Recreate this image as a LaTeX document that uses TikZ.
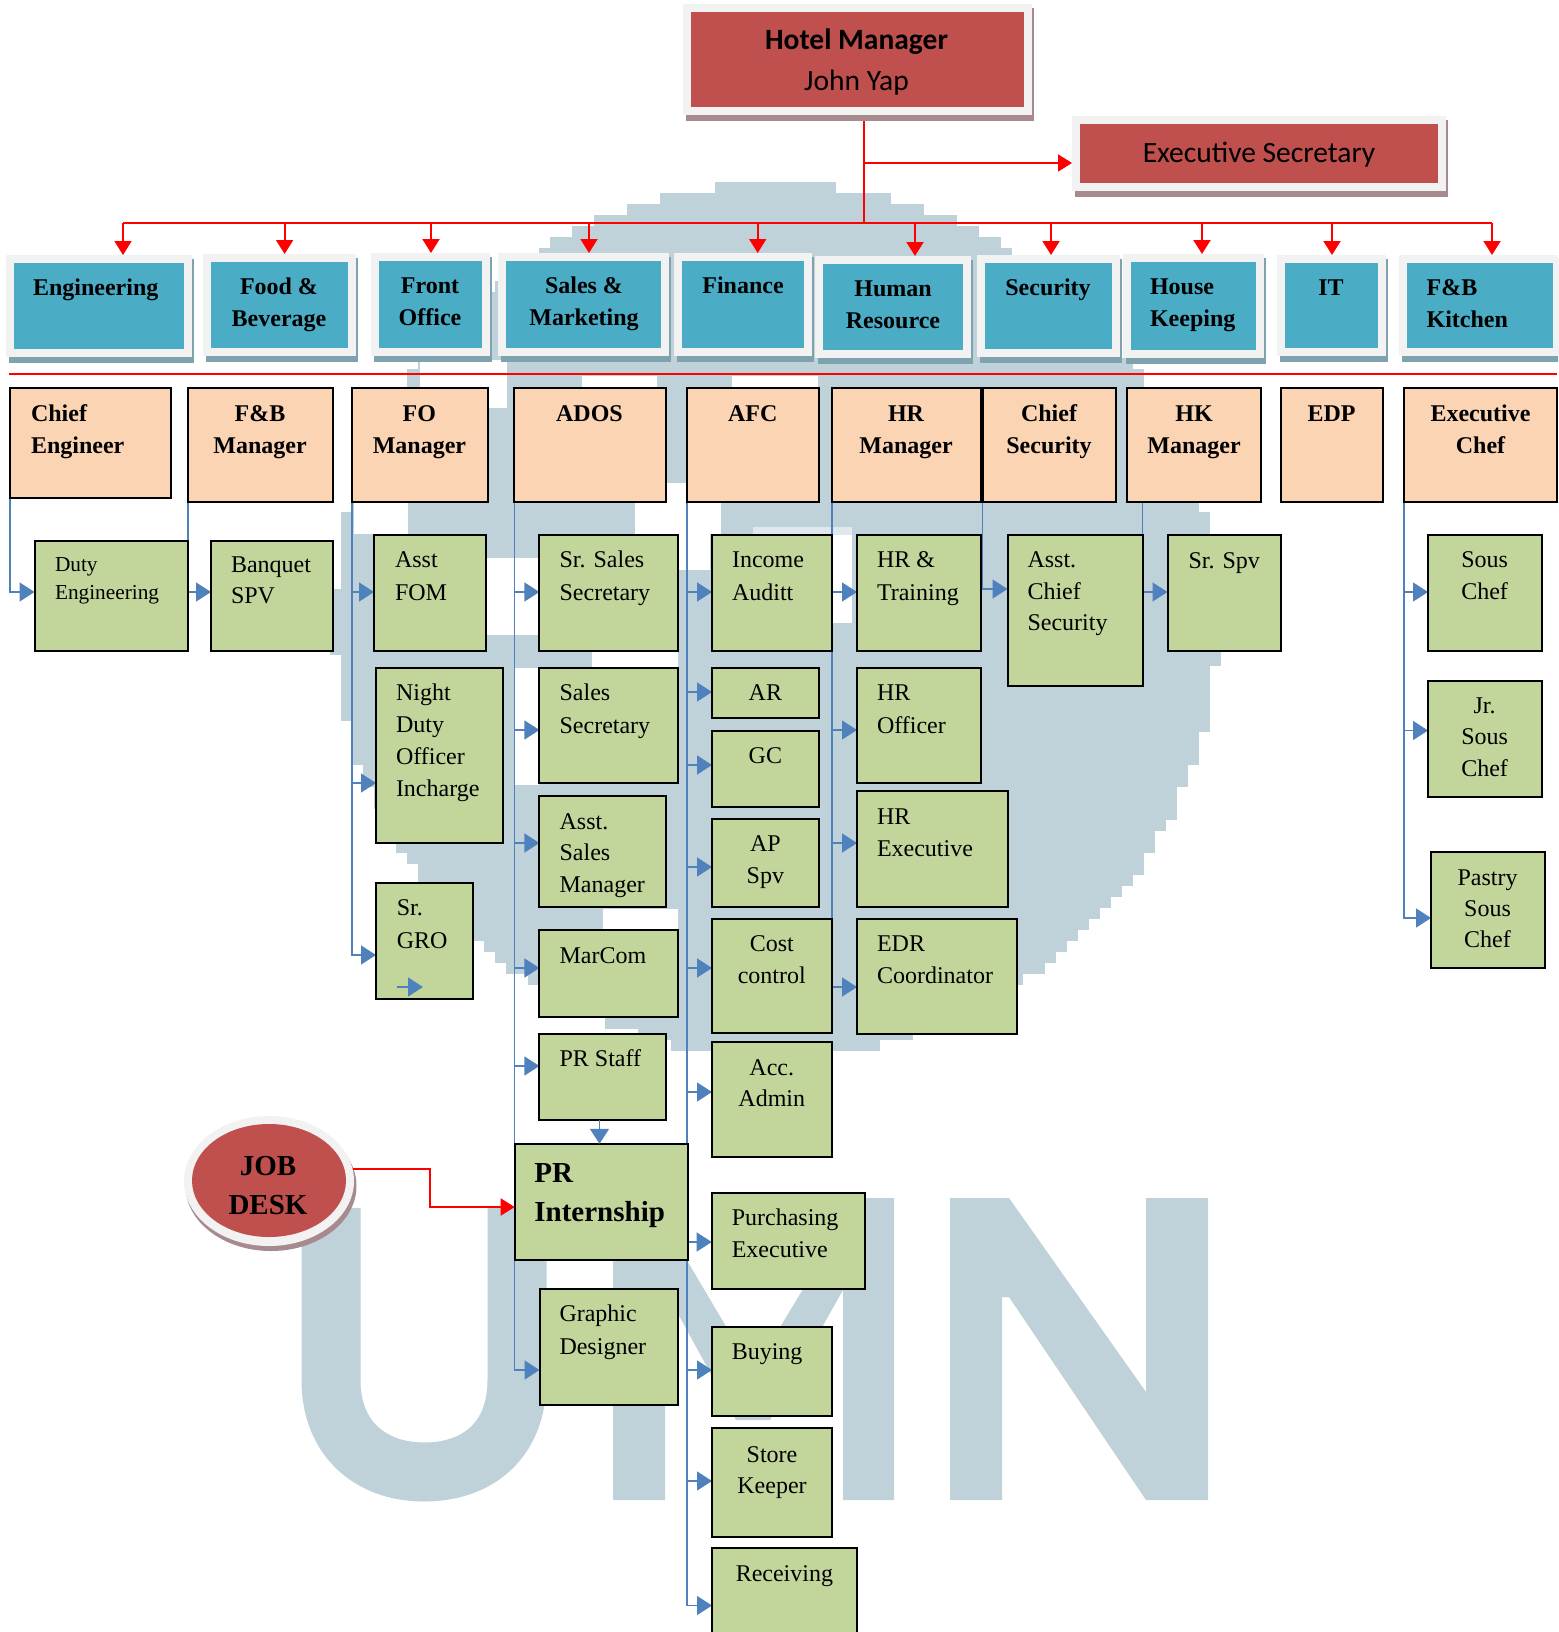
\documentclass[tikz,border=0pt]{standalone}
\usepackage{fontspec}
\setmainfont{Liberation Serif}
\newfontfamily\calib{Carlito}
\usetikzlibrary{arrows.meta,shapes.geometric}
\pgfdeclarelayer{wmlayer}
\pgfdeclarelayer{connlayer}
\pgfsetlayers{wmlayer,connlayer,main}
\definecolor{redbox}{HTML}{C0504D}
\definecolor{tealbox}{HTML}{4BACC6}
\definecolor{peachbox}{HTML}{FBD4B4}
\definecolor{greenbox}{HTML}{C2D69B}
\definecolor{blueline}{HTML}{4F81BD}
\definecolor{framec}{HTML}{F2F2F2}
\definecolor{wmc}{HTML}{BFD1D9}
\definecolor{shadowr}{HTML}{A68A8E}
\definecolor{shadowt}{HTML}{7FA3AE}
\tikzset{
  rectbase/.style={rectangle,inner sep=0pt,outer sep=0pt},
  framebox/.style={rectbase,fill=framec},
  redfill/.style={rectbase,fill=redbox},
  tealfill/.style={rectbase,fill=tealbox},
  peach/.style={rectbase,fill=peachbox,draw=black,line width=2pt},
  green/.style={rectbase,fill=greenbox,draw=black,line width=2pt},
  redconn/.style={draw=red,line width=1.9pt},
  redarrow/.style={redconn,-{Triangle[length=14pt,width=17pt]}},
  blueconn/.style={draw=blueline,line width=1.5pt,-{Triangle[length=15pt,width=19pt]}},
  tn/.style={inner sep=0pt,outer sep=0pt,yshift=30pt,text=black},
  gl/.style={tn,anchor=north west,align=left,font=\fontsize{24}{33}\selectfont},
  gc/.style={tn,anchor=north,align=center,font=\fontsize{24}{32}\selectfont},
  bl/.style={tn,anchor=north west,align=left,font=\fontsize{24}{32}\bfseries\selectfont},
  bc/.style={tn,anchor=north,align=center,font=\fontsize{24}{32}\bfseries\selectfont},
}
\newcommand\mybox[6]{\pgfmathsetmacro\bw{(#5)-(#3)}\pgfmathsetmacro\bh{(#6)-(#4)}%
  \node[#1,anchor=north west,minimum width=\bw pt,minimum height=\bh pt] (#2) at (#3,#4) {};}
\newcommand\mydept[7]{% name x1 y1 x2 y2 fill shadow
  \fill[#7] (#2-5,#3-4) rectangle (#4+10,#5+14);
  \mybox{framebox}{#1F}{#2-8}{#3-8}{#4+8}{#5+8}
  \mybox{#6}{#1}{#2}{#3}{#4}{#5}}
\newcommand\mylab[5]{\node[#1] (#2) at (#3,#4) {\rule{0pt}{30pt}#5};}
\newcommand\cn[3]{\draw[blueconn] (#1.south west) |- (#2.west |- 0,#3);}
\newcommand\rdrop[2]{\draw[redarrow] (#1,0 |- bus) -- (#1,0 |- #2F.north);}
\begin{document}
\begin{tikzpicture}[x=1pt,y=-1pt]
\useasboundingbox (0,0) rectangle (1558,1632);
\clip (0,0) rectangle (1558,1632);

% ---- pale logo behind the chart
\begin{pgfonlayer}{wmlayer}
  \foreach \i in {0,...,79}{
    \pgfmathsetmacro\yy{182+11*\i}
    \pgfmathsetmacro\yd{(\yy+5.5-620)/437}
    \pgfmathsetmacro\dx{442*sqrt(1-\yd*\yd)}
    \pgfmathsetmacro\xa{round((776-\dx)/11)*11}
    \pgfmathsetmacro\xb{round((776+\dx)/11)*11}
    \fill[wmc] (\xa,\yy) rectangle (\xb,\yy+11.3);
  }
  \fill[white] (420,360) rectangle (507,408);
  \fill[white] (582,376) rectangle (657,388);
  \fill[white] (732,376) rectangle (818,388);
  \fill[white] (666,483) rectangle (686,503);
  \fill[white] (354,503) rectangle (408,534);
  \fill[white] (635,503) rectangle (721,534);
  \fill[white] (678,534) rectangle (710,570);
  \fill[white!50!wmc] (753,527) rectangle (852,535);
  \fill[white] (832,535) rectangle (852,623);
  \fill[white] (486,558) rectangle (539,635);
  \fill[white] (592,652) rectangle (678,667);
  \fill[white] (514,668) rectangle (539,785);
  \fill[white] (603,909) rectangle (678,930);
  % U
  \draw[wmc,line width=59pt] (331,1208) -- (331,1380)
     .. controls (331,1440) and (372,1472) .. (424,1472)
     .. controls (478,1472) and (517,1440) .. (517,1380) -- (517,1208);
  % M
  \fill[wmc] (613,1500) -- (613,1198) -- (650,1198) -- (753,1372) -- (858,1198) -- (894,1198)
     -- (894,1500) -- (843,1500) -- (843,1290) -- (770,1420) -- (736,1420) -- (665,1290) -- (665,1500) -- cycle;
  % N
  \fill[wmc] (950,1500) -- (950,1198) -- (1009,1198) -- (1146,1392) -- (1146,1198) -- (1208,1198)
     -- (1208,1500) -- (1146,1500) -- (1009,1297) -- (1002,1297) -- (1002,1500) -- cycle;
\end{pgfonlayer}

% ---- top boxes
\mydept{hotel}{691}{12}{1024}{107}{redfill}{shadowr}
\mydept{sec}{1080}{124}{1437.5}{183}{redfill}{shadowr}
\mylab{tn,anchor=north,font=\fontsize{29.5}{34}\calib\bfseries\selectfont}{hotelT}{856.5}{50}{Hotel Manager}
\mylab{tn,anchor=north,font=\fontsize{29.5}{34}\calib\selectfont}{johnT}{856.5}{91}{John Yap}
\mylab{tn,anchor=north,font=\fontsize{29.5}{34}\calib\selectfont}{secT}{1259}{163}{Executive Secretary}

% ---- departments
\mydept{eng}{14}{263}{184}{349}{tealfill}{shadowt}
\mydept{fnb}{211}{262}{348}{348}{tealfill}{shadowt}
\mydept{front}{379}{261}{482}{348}{tealfill}{shadowt}
\mydept{sales}{506}{261}{661}{348}{tealfill}{shadowt}
\mydept{fin}{682}{261}{804}{348}{tealfill}{shadowt}
\mydept{hrd}{823}{264}{963}{350}{tealfill}{shadowt}
\mydept{secu}{984.5}{263}{1111.5}{349}{tealfill}{shadowt}
\mydept{house}{1131}{262}{1256}{350}{tealfill}{shadowt}
\mydept{itd}{1285}{263}{1378}{348}{tealfill}{shadowt}
\mydept{kit}{1407}{263}{1553}{348}{tealfill}{shadowt}
\mylab{bl}{engT}{33}{295}{Engineering}
\mylab{bc}{fnbT}{279}{294}{Food \&\\Beverage}
\mylab{bc}{frontT}{430}{293}{Front\\Office}
\mylab{bc}{salesT}{584}{293}{Sales \&\\Marketing}
\mylab{bc}{finT}{743}{293}{Finance}
\mylab{bc}{hrdT}{893}{296}{Human\\Resource}
\mylab{bc}{secuT}{1048}{295}{Security}
\mylab{bl}{houseT}{1150}{294}{House\\Keeping}
\mylab{bc}{itdT}{1331}{295}{IT}
\mylab{bl}{kitT}{1426.6}{295}{F\&B\\Kitchen}

% ---- managers
\mybox{peach}{ce}{10}{388}{171}{498}
\mybox{peach}{fbm}{188}{388}{333}{502}
\mybox{peach}{fom}{352}{388}{487.5}{502}
\mybox{peach}{ados}{514.4}{388}{665.7}{502}
\mybox{peach}{afc}{687}{388}{819}{502}
\mybox{peach}{hrm}{832}{388}{981}{502}
\mybox{peach}{cs}{982.5}{388}{1116}{502}
\mybox{peach}{hk}{1127}{388}{1261}{502}
\mybox{peach}{edp}{1281}{388}{1382.5}{502}
\mybox{peach}{ec}{1404}{388}{1557}{502}
\mylab{bl}{ceT}{31}{421}{Chief\\Engineer}
\mylab{bc}{fbmT}{260}{421}{F\&B\\Manager}
\mylab{bc}{fomT}{419.4}{421}{FO\\Manager}
\mylab{bc}{adosT}{589.5}{421.5}{ADOS}
\mylab{bc}{afcT}{752.8}{421.5}{AFC}
\mylab{bc}{hrmT}{906}{421}{HR\\Manager}
\mylab{bc}{csT}{1049}{421}{Chief\\Security}
\mylab{bc}{hkT}{1194}{421}{HK\\Manager}
\mylab{bc}{edpT}{1331.5}{421.5}{EDP}
\mylab{bc}{ecT}{1480.5}{421}{Executive\\Chef}

% ---- staff boxes
\mybox{green}{duty}{34.5}{540.5}{188}{651}
\mybox{green}{banq}{211}{540.5}{333}{651}
\mybox{green}{afom}{374}{535}{485.5}{651}
\mybox{green}{night}{376}{668}{503}{843}
\mybox{green}{gro}{376}{882.5}{473}{999}
\mybox{green}{srsales}{539.4}{535}{678}{651}
\mybox{green}{salessec}{539.4}{668}{678}{783}
\mybox{green}{asm}{539.4}{796}{665.6}{907}
\mybox{green}{marcom}{539.4}{930}{678}{1016.6}
\mybox{green}{prstaff}{539.4}{1033.6}{665.6}{1120}
\mybox{green}{intern}{514.7}{1143.8}{687.5}{1260}
\mybox{green}{graphic}{539.5}{1288.5}{678}{1404.7}
\mybox{green}{income}{712}{535}{832}{651}
\mybox{green}{ar}{712}{668}{818.7}{718}
\mybox{green}{gc}{712}{730.7}{818.7}{807}
\mybox{green}{ap}{712}{818.5}{818.7}{907}
\mybox{green}{cost}{712}{918.5}{832}{1033}
\mybox{green}{acc}{712}{1042}{832}{1157}
\mybox{green}{purch}{711.7}{1192.5}{865}{1288.7}
\mybox{green}{buying}{712}{1326.5}{832}{1415.6}
\mybox{green}{store}{712}{1428}{832}{1536.7}
\mybox{green}{recv}{712}{1548}{857}{1640}
\mybox{green}{hrt}{857}{535}{980.5}{651}
\mybox{green}{hro}{857}{668}{980.5}{783}
\mybox{green}{hre}{857}{791}{1007.5}{907}
\mybox{green}{edr}{857}{918.5}{1017}{1034}
\mybox{green}{acs}{1007.5}{535}{1142.5}{686.4}
\mybox{green}{spv}{1167.5}{535}{1281}{651}
\mybox{green}{sous}{1428}{535}{1542}{651}
\mybox{green}{jrsous}{1428}{680.6}{1542}{797}
\mybox{green}{pastry}{1431}{851.6}{1545}{968}

\mylab{gl,font=\fontsize{21.3}{28}\selectfont}{dutyT}{55}{571}{Duty\\Engineering}
\mylab{gl,font=\fontsize{24}{31.5}\selectfont}{banqT}{231}{572}{Banquet\\SPV}
\mylab{gl}{afomT}{395}{567.5}{Asst\\FOM}
\mylab{gl,font=\fontsize{24}{32}\selectfont}{nightT}{396}{700.5}{Night\\Duty\\Officer\\Incharge}
\mylab{gl}{groT}{396.8}{915}{Sr.\\GRO}
\mylab{gl}{srsalesT}{559.6}{567.5}{Sr. Sales\\Secretary}
\mylab{gl,font=\fontsize{24}{32.5}\selectfont}{salessecT}{559.6}{700.5}{Sales\\Secretary}
\mylab{gl,font=\fontsize{24}{31.5}\selectfont}{asmT}{559.6}{829}{Asst.\\Sales\\Manager}
\mylab{gl}{marcomT}{559.6}{963.5}{MarCom}
\mylab{gl}{prstaffT}{559.6}{1066.5}{PR Staff}
\mylab{bl,font=\fontsize{29}{39.5}\bfseries\selectfont}{internT}{534.4}{1182}{PR\\Internship}
\mylab{gl}{graphicT}{559.5}{1321.5}{Graphic\\Designer}
\mylab{gl}{incomeT}{732}{567.5}{Income\\Auditt}
\mylab{gc}{arT}{765.4}{700.5}{AR}
\mylab{gc}{gcT}{765.4}{763.5}{GC}
\mylab{gc}{apT}{765.4}{851}{AP\\Spv}
\mylab{gc}{costT}{771.8}{951.5}{Cost\\control}
\mylab{gc,font=\fontsize{24}{31}\selectfont}{accT}{771.8}{1075.5}{Acc.\\Admin}
\mylab{gl,font=\fontsize{24}{32}\selectfont}{purchT}{731.8}{1225}{Purchasing\\Executive}
\mylab{gl}{buyingT}{731.8}{1359.6}{Buying}
\mylab{gc,font=\fontsize{24}{31.5}\selectfont}{storeT}{772}{1462}{Store\\Keeper}
\mylab{gc}{recvT}{784.4}{1581}{Receiving}
\mylab{gl}{hrtT}{877}{567.5}{HR \&\\Training}
\mylab{gl}{hroT}{877}{700.5}{HR\\Officer}
\mylab{gl,font=\fontsize{24}{32}\selectfont}{hreT}{877}{824}{HR\\Executive}
\mylab{gl,font=\fontsize{24}{32}\selectfont}{edrT}{877}{951.5}{EDR\\Coordinator}
\mylab{gl,font=\fontsize{24}{31.6}\selectfont}{acsT}{1027.5}{567.5}{Asst.\\Chief\\Security}
\mylab{gl}{spvT}{1188.5}{568}{Sr. Spv}
\mylab{gc}{sousT}{1484.6}{567.5}{Sous\\Chef}
\mylab{gc,font=\fontsize{24}{31.5}\selectfont}{jrsousT}{1484.6}{713}{Jr.\\Sous\\Chef}
\mylab{gc,font=\fontsize{24}{31}\selectfont}{pastryT}{1487.5}{885.5}{Pastry\\Sous\\Chef}

% ---- job desk
\node[ellipse,inner sep=0pt,outer sep=0pt,fill=shadowr,minimum width=171pt,minimum height=130pt] (jobS) at (271,1186) {};
\node[ellipse,inner sep=0pt,outer sep=0pt,fill=framec,minimum width=170pt,minimum height=130pt] (jobF) at (269,1181) {};
\node[ellipse,inner sep=0pt,outer sep=0pt,fill=redbox,minimum width=154pt,minimum height=113pt] (job) at (269,1180.5) {};
\mylab{bc,font=\fontsize{29}{39}\bfseries\selectfont}{jobT}{268}{1175}{JOB\\DESK}

% ---- connectors
\coordinate (bus) at (864.4,223);
\coordinate (ruleL) at (9,374);
\coordinate (ruleR) at (1557,374);
\coordinate (froA) at (397,987);
\coordinate (froB) at (423,987);
\begin{pgfonlayer}{connlayer}
  \draw[redconn] (hotel.south -| bus) -- (bus);
  \draw[redconn] (123,0 |- bus) -- (1492,0 |- bus);
  \draw[redconn,line width=1.6pt] (ruleL) -- (ruleR);
  \cn{ce}{duty}{592}
  \cn{fbm}{banq}{592}
  \cn{fom}{afom}{592}
  \cn{fom}{night}{783}
  \cn{fom}{gro}{955}
  \cn{ados}{srsales}{592}
  \cn{ados}{salessec}{730}
  \cn{ados}{asm}{843}
  \cn{ados}{marcom}{968}
  \cn{ados}{prstaff}{1066}
  \cn{ados}{graphic}{1370}
  \cn{afc}{income}{592}
  \cn{afc}{ar}{692}
  \cn{afc}{gc}{765}
  \cn{afc}{ap}{867}
  \cn{afc}{cost}{968}
  \cn{afc}{acc}{1092}
  \cn{afc}{purch}{1242}
  \cn{afc}{buying}{1370}
  \cn{afc}{store}{1481}
  \cn{afc}{recv}{1605.5}
  \cn{hrm}{hrt}{592}
  \cn{hrm}{hro}{730}
  \cn{hrm}{hre}{843}
  \cn{hrm}{edr}{987}
  \cn{cs}{acs}{589}
  \draw[blueconn] (1142.5,0 |- hk.south) |- (spv.west |- 0,592);
  \cn{ec}{sous}{592}
  \cn{ec}{jrsous}{730.5}
  \cn{ec}{pastry}{918}
\end{pgfonlayer}
\draw[redarrow] (bus |- 0,163) -- (secF.west |- 0,163);
\rdrop{123}{eng}
\rdrop{284.6}{fnb}
\rdrop{431}{front}
\rdrop{589}{sales}
\rdrop{757.7}{fin}
\rdrop{915}{hrd}
\rdrop{1051}{secu}
\rdrop{1202}{house}
\rdrop{1332}{itd}
\rdrop{1492}{kit}
\draw[blueconn] (froA) -- (froB);
\draw[blueconn] (599.5,0 |- prstaff.south) -- (599.5,0 |- intern.north);
\draw[redarrow] (jobF.8) -- (429.6,0 |- jobF.8) -- (429.6,1207) -- (intern.west |- 0,1207);
\end{tikzpicture}
\end{document}
